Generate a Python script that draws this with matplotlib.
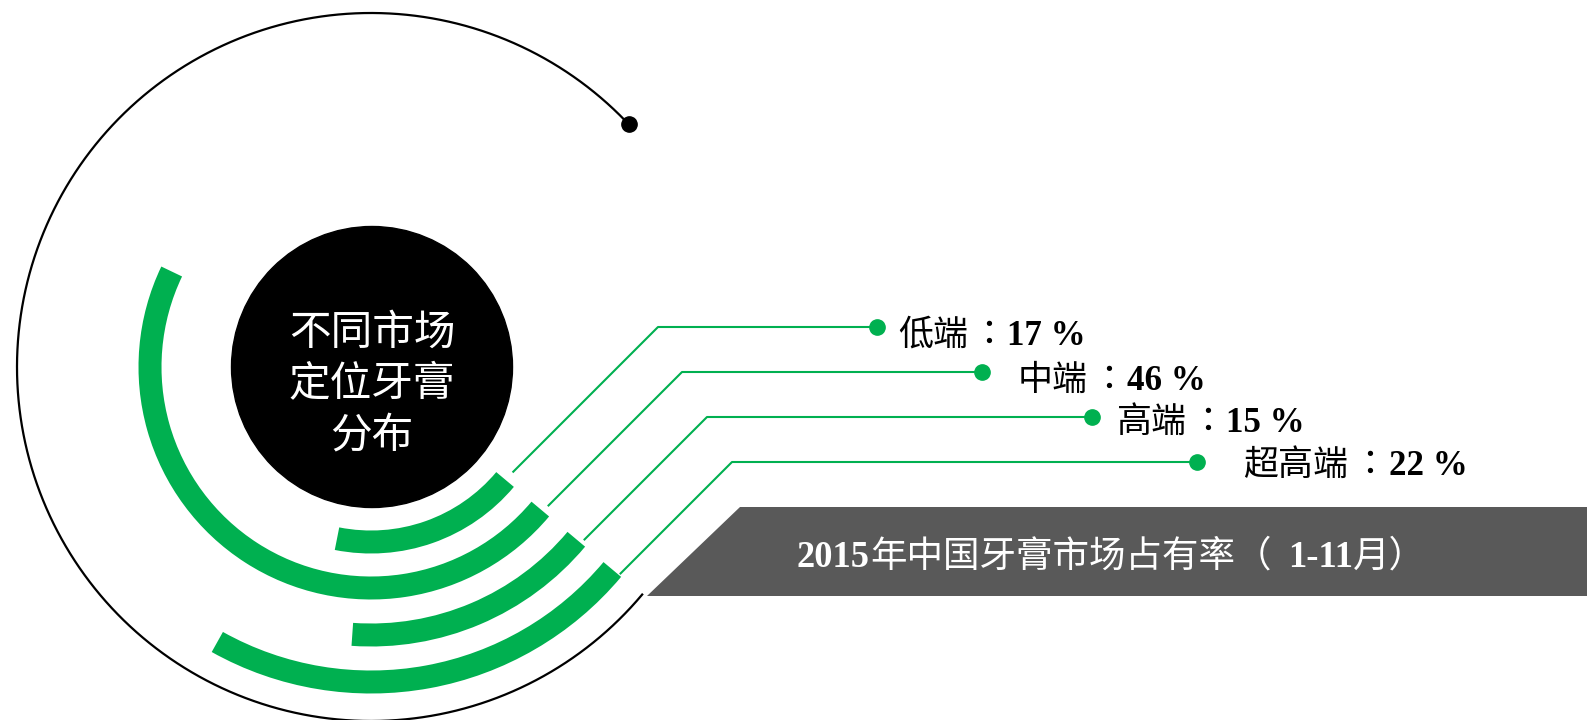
import matplotlib
matplotlib.use("Agg")
import matplotlib.pyplot as plt
import numpy as np
from matplotlib.patches import Wedge, Circle, Polygon

# market share by positioning (Jan-Nov 2015)
segments = ["低端", "中端", "高端", "超高端"]
shares = [17, 46, 15, 22]
center_lines = ["不同市场", "定位牙膏", "分布"]
banner_runs = ["2015", "年中国牙膏市场占有率（", "1-11", "月）"]

GREEN = "#00B050"
GREY = "#595959"
CJK = ["Noto Sans CJK SC", "DejaVu Sans"]
PUNCT = ["Noto Sans CJK TC", "DejaVu Sans"]   # colon sits centred in its box
SERIF = ["Liberation Serif", "DejaVu Serif"]

W, H = 1587, 720
CX, CY = 371, 367
OUTER_R = 354
ARC_R = [175, 221, 268, 315]
ARC_W = 23
END_ANG = 40          # arcs end 40 deg below the horizontal, right side
OUTER_START = 316.7   # outer black ring stops top-right

DOT_X = [877, 982, 1092, 1197]
DOT_Y = [327, 372, 417, 462]
CORNER_X = [658, 682, 707, 732]
LABEL_X = [898, 1018, 1117, 1243]
LABEL_BASE = [345, 390, 432, 475]


def text_runs(ax, x, y, runs, color, size):
    """Draw runs side by side: digits bold serif, the rest CJK sans."""
    renderer = ax.figure.canvas.get_renderer()
    adv = size * 100 / 72 * 1.04
    for s in runs:
        if s[0].isdigit():
            t = ax.text(x, y, s, color=color, fontsize=size, va="baseline",
                        ha="left", family=SERIF, fontweight="bold")
            x += t.get_window_extent(renderer).width
        else:
            ax.text(x, y, s, color=color, fontsize=size, va="baseline", ha="left",
                    family=PUNCT if s == "：" else CJK)
            x += len(s) * adv


fig = plt.figure(figsize=(W / 100, H / 100), dpi=100)
ax = fig.add_axes([0, 0, 1, 1])
ax.set_xlim(0, W)
ax.set_ylim(H, 0)
ax.axis("off")

# outer thin ring with end dot
th = np.radians(np.linspace(END_ANG, OUTER_START, 400))
ax.plot(CX + OUTER_R * np.cos(th), CY + OUTER_R * np.sin(th), color="black", lw=1.6)
ax.plot(CX + OUTER_R * np.cos(th[-1]), CY + OUTER_R * np.sin(th[-1]), "o",
        color="black", markersize=11)

# center disc + title
ax.add_patch(Circle((372, 367), 140.5, color="black"))
for i, line in enumerate(center_lines):
    ax.text(372, 345 + 51 * i, line, color="white", fontsize=30, family=CJK,
            ha="center", va="baseline")

# share arcs, leaders, labels
a = np.radians(END_ANG)
for seg, pct, r, dx, dy, cx, lx, ly in zip(segments, shares, ARC_R, DOT_X, DOT_Y,
                                           CORNER_X, LABEL_X, LABEL_BASE):
    ax.add_patch(Wedge((CX, CY), r + ARC_W / 2, END_ANG, END_ANG + pct * 3.6,
                       width=ARC_W, color=GREEN, lw=0))
    sx = CX + r * np.cos(a) + 7.5
    sy = dy + (cx - sx)
    ax.plot([sx, cx, dx], [sy, dy, dy], color=GREEN, lw=1.5, solid_capstyle="butt")
    ax.plot(dx, dy, "o", color=GREEN, markersize=11)
    text_runs(ax, lx, ly, [seg, "：", f"{pct} %"], "black", 25.2)

# bottom banner
ax.add_patch(Polygon([(647, 596), (740, 507), (W, 507), (W, 596)],
                     closed=True, color=GREY, lw=0))
text_runs(ax, 797, 567, banner_runs, "white", 26.3)

fig.savefig("out.png", dpi=100)
